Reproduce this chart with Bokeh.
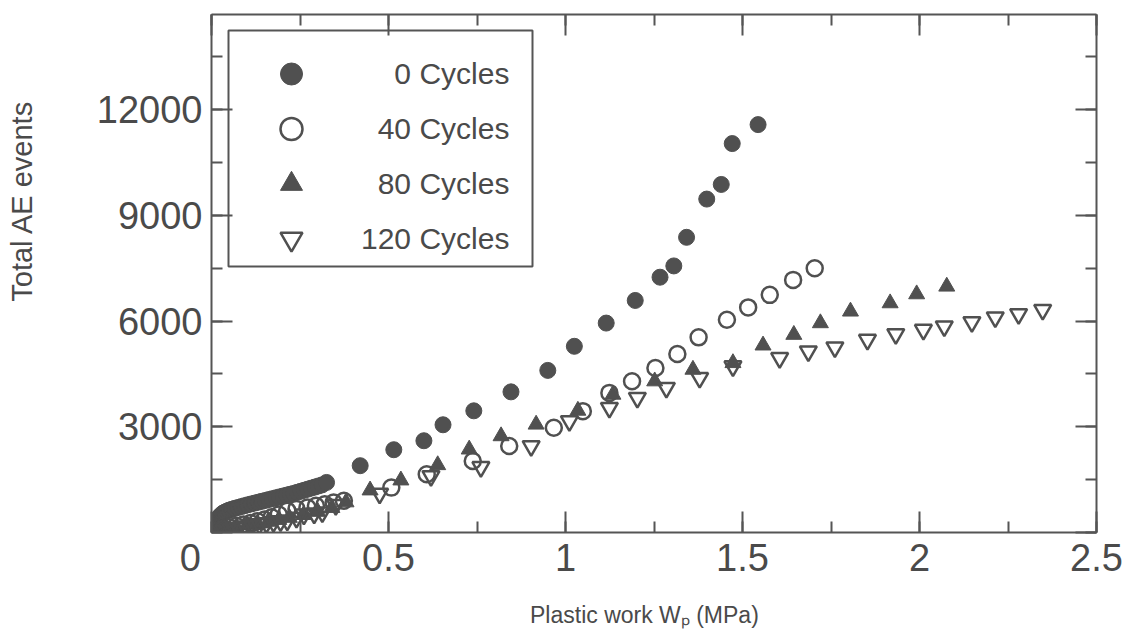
import math
from bokeh.plotting import figure
from bokeh.models import (Range1d, LinearAxis, SingleIntervalTicker, Legend, LegendItem,
                          BoxAnnotation, CustomJSTickFormatter)
from bokeh.embed import file_html
from bokeh.resources import INLINE

# ---------------- data ----------------
series_names = ["0 Cycles", "40 Cycles", "80 Cycles", "120 Cycles"]
x_title = "Plastic work W\u209a (MPa)"
y_title = "Total AE events"

x_0 = [0.006, 0.008, 0.010, 0.012, 0.014, 0.016, 0.018, 0.021, 0.024, 0.028, 0.032,
       0.037, 0.043, 0.050, 0.058, 0.066, 0.075, 0.084, 0.093, 0.102, 0.112, 0.122,
       0.132, 0.142, 0.152, 0.162, 0.172, 0.182, 0.192, 0.202, 0.212, 0.222, 0.232,
       0.242, 0.252, 0.262, 0.272, 0.282, 0.292, 0.302, 0.312, 0.325,
       0.42, 0.515, 0.600, 0.654, 0.741, 0.846, 0.95, 1.025, 1.115, 1.197, 1.267,
       1.306, 1.342, 1.399, 1.440, 1.471, 1.544]
y_0 = [40, 100, 160, 220, 280, 330, 380, 430, 470, 510, 545,
       575, 605, 635, 660, 685, 710, 735, 760, 785, 810, 835,
       860, 885, 910, 935, 960, 985, 1010, 1035, 1060, 1085, 1110,
       1140, 1170, 1200, 1230, 1260, 1290, 1320, 1350, 1420,
       1896, 2349, 2604, 3057, 3453, 3991, 4600, 5284, 5943, 6585, 7245,
       7565, 8377, 9462, 9877, 11037, 11575]

x_40 = [0.010, 0.020, 0.035, 0.050, 0.070, 0.090, 0.110, 0.130, 0.150, 0.170, 0.190,
        0.214, 0.240, 0.271, 0.295, 0.320, 0.345, 0.374,
        0.508, 0.608, 0.738, 0.841, 0.967, 1.049, 1.124, 1.188, 1.254, 1.316, 1.376,
        1.456, 1.516, 1.577, 1.643, 1.704]
y_40 = [30, 70, 110, 150, 190, 230, 270, 320, 370, 430, 510,
        620, 670, 710, 760, 800, 850, 900,
        1274, 1651, 2028, 2453, 2972, 3444, 3962, 4293, 4670, 5066, 5538,
        6037, 6388, 6744, 7169, 7500]

x_80 = [0.015, 0.04, 0.07, 0.10, 0.13, 0.16, 0.19, 0.22, 0.26, 0.30, 0.34, 0.38,
        0.448, 0.535, 0.639, 0.728, 0.818, 0.917, 1.035, 1.134, 1.252, 1.360, 1.473,
        1.558, 1.645, 1.720, 1.805, 1.917, 1.992, 2.077]
y_80 = [40, 100, 160, 210, 260, 310, 360, 420, 500, 590, 700, 860,
        1198, 1481, 1915, 2359, 2736, 3066, 3460, 3915, 4293, 4623, 4811,
        5311, 5613, 5943, 6274, 6509, 6764, 6982]

x_120 = [0.015, 0.035, 0.055, 0.075, 0.095, 0.115, 0.135, 0.155, 0.175, 0.195, 0.214,
         0.240, 0.261, 0.290, 0.313, 0.351,
         0.475, 0.62, 0.761, 0.903, 1.011, 1.124, 1.203, 1.285, 1.379, 1.473, 1.605,
         1.686, 1.761, 1.853, 1.933, 2.011, 2.070, 2.148, 2.214, 2.280, 2.348]
y_120 = [20, 60, 100, 140, 175, 205, 235, 265, 295, 320, 340,
         420, 510, 540, 570, 780,
         1104, 1600, 1859, 2453, 3161, 3538, 3821, 4104, 4387, 4717, 4953,
         5142, 5256, 5471, 5632, 5754, 5850, 5972, 6105, 6198, 6320]

# ---------------- styling ----------------
FONT = "Liberation Sans"
AX = "#555555"
TXT = "#4a4a4a"
MK = "#505050"
NBSP = "\u00a0"
FIG = "\u2007"

p = figure(width=1126, height=633, output_backend="svg", toolbar_location=None,
           x_range=Range1d(0, 2.5), y_range=Range1d(0, 14700),
           min_border_left=211, min_border_right=30, min_border_top=14, min_border_bottom=101,
           x_axis_location=None, y_axis_location=None)
p.grid.visible = False
p.outline_line_color = None
p.background_fill_color = "white"
p.border_fill_color = "white"


def style_axis(ax):
    ax.axis_line_color = AX
    ax.axis_line_width = 2
    ax.major_tick_line_color = AX
    ax.major_tick_line_width = 2
    ax.minor_tick_line_color = AX
    ax.minor_tick_line_width = 2
    ax.major_tick_in = 21
    ax.major_tick_out = 0
    ax.minor_tick_in = 11
    ax.minor_tick_out = 0
    ax.major_label_text_font = FONT
    ax.major_label_text_color = TXT
    ax.axis_label_text_font = FONT
    ax.axis_label_text_color = TXT
    ax.axis_label_text_font_style = "normal"


bottom = LinearAxis(ticker=SingleIntervalTicker(interval=0.5, num_minor_ticks=2),
                    formatter=CustomJSTickFormatter(
                        code="return tick == 0 ? '0' + '\\u00a0'.repeat(4) : tick.toString()"))
style_axis(bottom)
bottom.major_label_text_font_size = "38px"
bottom.major_label_standoff = 4
bottom.axis_label = x_title + NBSP * 3
bottom.axis_label_text_font_size = "23px"
bottom.axis_label_standoff = 20
p.add_layout(bottom, "below")

left = LinearAxis(ticker=SingleIntervalTicker(interval=3000, num_minor_ticks=2),
                  formatter=CustomJSTickFormatter(code="return tick == 0 ? '' : tick.toString()"))
style_axis(left)
left.major_label_text_font_size = "38px"
left.major_label_standoff = 9
left.axis_label = NBSP * 18 + y_title
left.axis_label_text_font_size = "29px"
left.axis_label_standoff = 56
p.add_layout(left, "left")

top = LinearAxis(ticker=SingleIntervalTicker(interval=0.5, num_minor_ticks=2),
                 formatter=CustomJSTickFormatter(code="return ''"))
style_axis(top)
top.major_label_text_font_size = "1px"
top.major_label_standoff = 0
p.add_layout(top, "above")

right = LinearAxis(ticker=SingleIntervalTicker(interval=3000, num_minor_ticks=2),
                   formatter=CustomJSTickFormatter(code="return ''"))
style_axis(right)
right.major_label_text_font_size = "1px"
right.major_label_standoff = 0
p.add_layout(right, "right")

# ---------------- marks ----------------
r0 = p.scatter(x_0, y_0, marker="circle", size=16, fill_color=MK, line_color=MK)
r1 = p.scatter(x_40, y_40, marker="circle", size=16, fill_color=None, line_color=MK,
               line_width=2.5)
r2 = p.scatter(x_80, y_80, marker="triangle", size=16, fill_color=MK, line_color=MK)
r3 = p.scatter(x_120, y_120, marker="inverted_triangle", size=17, fill_color=None,
               line_color=MK, line_width=2.5)

legend_labels = [FIG * 2 + series_names[0], FIG + series_names[1],
                 FIG + series_names[2], series_names[3]]
legend = Legend(items=[LegendItem(label=legend_labels[0], renderers=[r0]),
                       LegendItem(label=legend_labels[1], renderers=[r1]),
                       LegendItem(label=legend_labels[2], renderers=[r2]),
                       LegendItem(label=legend_labels[3], renderers=[r3])],
                location=(30, 266), orientation="vertical", padding=0, spacing=0,
                glyph_width=100, glyph_height=55, label_height=55, label_standoff=20,
                label_text_font=FONT, label_text_font_size="30px", label_text_color=TXT,
                border_line_color=None, background_fill_alpha=0, margin=0)
p.add_layout(legend, "center")

box = BoxAnnotation(left=17, right=321, top=502, bottom=266,
                    left_units="screen", right_units="screen",
                    top_units="screen", bottom_units="screen",
                    fill_alpha=0, fill_color=None, line_color=AX, line_alpha=1.0,
                    line_width=2)
p.add_layout(box)

open("out.html", "w").write(file_html(p, INLINE))
